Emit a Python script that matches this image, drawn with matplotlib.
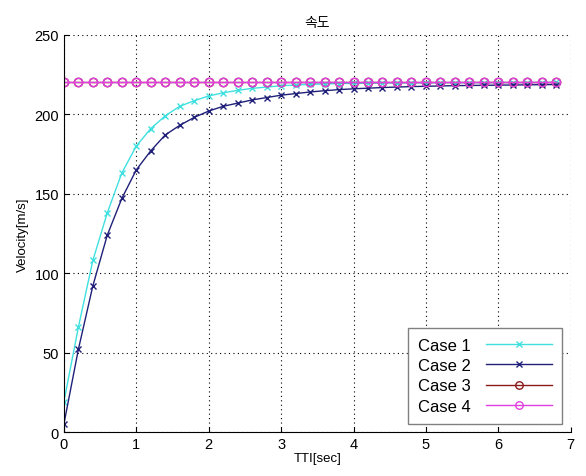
import numpy as np
import matplotlib.pyplot as plt

plt.rcParams['font.family'] = ['Liberation Sans', 'Noto Sans CJK KR', 'DejaVu Sans']

t = np.round(np.arange(0, 6.81, 0.2), 1)

case1 = [19, 66, 108, 138, 163, 180, 191, 199, 205, 208.5, 211.5, 213.5,
         215, 216.3, 217.1, 217.9, 218.4, 218.8, 219.1, 219.3, 219.45,
         219.55, 219.65, 219.7, 219.75, 219.8, 219.85, 219.88, 219.9,
         219.92, 219.93, 219.95, 219.96, 219.97, 219.98]
case2 = [5, 52, 92, 124, 147, 165, 177, 187, 193, 198, 202, 205, 207, 209,
         210.5, 212, 213, 214, 214.8, 215.5, 216, 216.4, 216.8, 217.1,
         217.4, 217.6, 217.8, 218, 218.1, 218.2, 218.3, 218.4, 218.5,
         218.6, 218.7]
case3 = [220] * len(t)
case4 = [220] * len(t)

fig = plt.figure(figsize=(5.86, 4.77), dpi=100)
ax = fig.add_axes([0.109, 0.092, 0.865, 0.833])

ax.plot(t, case1, '-x', color='#40e0e0', lw=1, ms=5, label='Case 1')
ax.plot(t, case2, '-x', color='#20207a', lw=1, ms=4.5, label='Case 2')
ax.plot(t, case3, '-o', color='#8b1a1a', lw=1, ms=6, mfc='none', label='Case 3')
ax.plot(t, case4, '-o', color='#e040e0', lw=1, ms=6, mfc='none', label='Case 4')

ax.set_xlim(0, 7)
ax.set_ylim(0, 250)
ax.set_xticks(range(8))
ax.set_yticks(range(0, 251, 50))
ax.grid(True, linestyle=(0, (1, 3)), color='black', lw=0.8)
ax.spines['top'].set_visible(False)
ax.spines['right'].set_visible(False)
ax.tick_params(direction='in', labelsize=10.5)

ax.set_title('속도', fontsize=10, family=['Noto Sans CJK KR', 'DejaVu Sans'])
ax.set_xlabel('TTI[sec]', fontsize=9.5, labelpad=1)
ax.set_ylabel('Velocity[m/s]', fontsize=9.5)

leg = ax.legend(loc='lower right', numpoints=1, handlelength=4, fontsize=12,
                fancybox=False, edgecolor='gray', framealpha=1,
                markerfirst=False, borderaxespad=0.5, labelspacing=0.32,
                borderpad=0.6, handletextpad=0.9, markerscale=0.9)
leg.get_frame().set_linewidth(1)

fig.savefig('out.png', dpi=100)
